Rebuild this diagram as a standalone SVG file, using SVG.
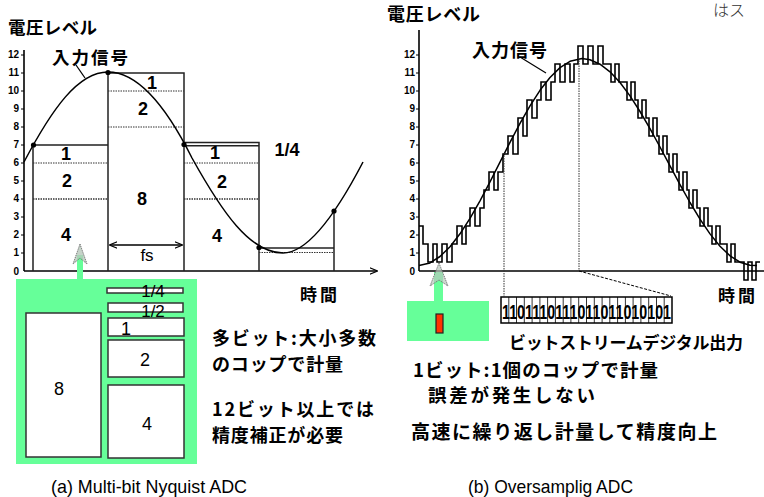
<svg xmlns="http://www.w3.org/2000/svg" width="764" height="497" viewBox="0 0 764 497">
<defs>
<style>
.ax{stroke:#000;stroke-width:1.6;fill:none}
.bar{stroke:#222;stroke-width:1.5;fill:none}
.dt{stroke:#333;stroke-width:1;stroke-dasharray:1.5,1;fill:none}
.dt2{stroke:#333;stroke-width:1.6;stroke-dasharray:1.5,1;fill:none}
.cv{stroke:#000;stroke-width:1.5;fill:none}
.jp{font-family:"Noto Sans CJK JP","Noto Sans CJK SC",sans-serif;font-weight:bold;fill:#000}
.nb{font-family:"Liberation Sans",Arial,sans-serif;font-weight:bold;fill:#000}
.nr{font-family:"Liberation Sans",Arial,sans-serif;fill:#000}
.yl{font-family:"Liberation Sans",Arial,sans-serif;font-weight:bold;font-size:10px;text-anchor:end;fill:#000}
.box{fill:#fff;stroke:#333;stroke-width:1.5}
.grn{fill:#66ff99}
.ah{fill:#b8c8bc;stroke:#777;stroke-width:1;stroke-dasharray:1.2,0.8}
</style>
<marker id="arr" viewBox="0 0 10 10" refX="9" refY="5" markerWidth="8" markerHeight="8" orient="auto-start-reverse" markerUnits="userSpaceOnUse">
<path d="M0,1 L10,5 L0,9" fill="none" stroke="#000" stroke-width="1.5"/>
</marker>
</defs>
<rect width="764" height="497" fill="#fff"/>

<!-- ===== Left chart (a) ===== -->
<g id="left-axes">
<text class="jp" x="8" y="34" font-size="17.5" textLength="89">電圧レベル</text>
<line class="ax" x1="24" y1="50" x2="24" y2="271"/>
<line class="ax" x1="24" y1="271" x2="377" y2="271" stroke-width="2" marker-end="url(#arr)"/>
<g class="yl">
<text x="19" y="58">12</text><text x="19" y="76">11</text><text x="19" y="94">10</text>
<text x="19" y="112">9</text><text x="19" y="130">8</text><text x="19" y="148">7</text>
<text x="19" y="166">6</text><text x="19" y="184">5</text><text x="19" y="202">4</text>
<text x="19" y="220">3</text><text x="19" y="238">2</text><text x="19" y="256">1</text>
<text x="19" y="275">0</text>
</g>
<path stroke="#000" stroke-width="1" d="M21,55H24M21,73H24M21,91H24M21,109H24M21,127H24M21,145H24M21,163H24M21,181H24M21,199H24M21,217H24M21,235H24M21,253H24"/>
<text class="jp" x="300" y="301" font-size="17" textLength="37">時間</text>
</g>

<g id="bar1">
<path class="bar" d="M33,271V145H108"/>
<line class="dt" x1="33" y1="163" x2="108" y2="163"/>
<line class="dt2" x1="33" y1="199" x2="108" y2="199"/>
<text class="nb" x="66" y="160" font-size="18" text-anchor="middle">1</text>
<text class="nb" x="67" y="187" font-size="18" text-anchor="middle">2</text>
<text class="nb" x="66" y="241" font-size="18" text-anchor="middle">4</text>
</g>
<g id="bar2">
<path class="bar" d="M108,271V73H184V271"/>
<line class="dt" x1="108" y1="91" x2="184" y2="91"/>
<line class="dt" x1="108" y1="127" x2="184" y2="127"/>
<text class="nb" x="152" y="89" font-size="18" text-anchor="middle">1</text>
<text class="nb" x="143" y="115" font-size="18" text-anchor="middle">2</text>
<text class="nb" x="142" y="205" font-size="18" text-anchor="middle">8</text>
<line x1="110" y1="245" x2="182" y2="245" stroke="#000" stroke-width="1.3" marker-start="url(#arr)" marker-end="url(#arr)"/>
<rect x="138" y="247" width="19" height="13" fill="#fff"/>
<text class="nr" x="147" y="261" font-size="17" text-anchor="middle">fs</text>
</g>
<g id="bar3">
<path class="bar" d="M184,142.5H259V271"/>
<line class="bar" x1="184" y1="145.7" x2="259" y2="145.7" stroke-width="1.2"/>
<line class="dt" x1="184" y1="163" x2="259" y2="163"/>
<line class="dt2" x1="184" y1="199" x2="259" y2="199"/>
<text class="nb" x="215" y="159" font-size="18" text-anchor="middle">1</text>
<text class="nb" x="222" y="188" font-size="18" text-anchor="middle">2</text>
<text class="nb" x="217" y="242" font-size="18" text-anchor="middle">4</text>
<text class="nb" x="287" y="156" font-size="18" text-anchor="middle">1/4</text>
</g>
<g id="bar4">
<path class="bar" d="M259,248H334"/>
<line class="dt" x1="259" y1="252.5" x2="334" y2="252.5"/>
<line class="bar" x1="334" y1="211" x2="334" y2="271"/>
</g>

<g id="left-signal">
<path class="cv" d="M24,162 C52,109 78,72 108,72 C136,72 164,102 192,158 C222,212 250,253 283,253 C309,253 337,212 363,162"/>
<g fill="#000">
<circle cx="33.5" cy="145" r="2.6"/><circle cx="108" cy="72.5" r="2.6"/>
<circle cx="184" cy="144.5" r="2.6"/><circle cx="259" cy="247.5" r="2.6"/>
<circle cx="334" cy="211" r="2.6"/>
</g>
<text class="jp" x="52" y="64" font-size="17.5" textLength="76">入力信号</text>
</g>

<!-- green comparator bank (a) -->
<g id="cups-a">
<rect class="grn" x="16" y="279" width="181" height="185"/>
<rect class="box" x="26" y="313" width="75" height="144"/>
<rect class="box" x="107" y="288" width="76" height="5" stroke-width="1.2"/>
<rect class="box" x="108" y="303" width="75" height="9" stroke-width="1.2"/>
<rect class="box" x="108" y="318" width="76" height="18"/>
<rect class="box" x="108" y="340" width="76" height="37"/>
<rect class="box" x="108" y="385" width="76" height="73"/>
<text class="nr" x="59" y="395" font-size="18" text-anchor="middle">8</text>
<text class="nr" x="153" y="297" font-size="17" text-anchor="middle">1/4</text>
<text class="nr" x="153" y="317" font-size="17" text-anchor="middle">1/2</text>
<text class="nr" x="126" y="335" font-size="18" text-anchor="middle">1</text>
<text class="nr" x="145" y="366" font-size="18" text-anchor="middle">2</text>
<text class="nr" x="147" y="430" font-size="18" text-anchor="middle">4</text>
</g>

<g id="text-a">
<text class="jp" x="212" y="345" font-size="18" textLength="164">多ビット:大小多数</text>
<text class="jp" x="212" y="371" font-size="18" textLength="131">のコップで計量</text>
<text class="jp" x="212" y="416" font-size="18" textLength="162">12ビット以上では</text>
<text class="jp" x="212" y="442" font-size="18" textLength="131">精度補正が必要</text>
<text class="nr" x="51" y="493" font-size="19" textLength="196" lengthAdjust="spacingAndGlyphs">(a) Multi-bit Nyquist ADC</text>
</g>

<!-- ===== Right chart (b) ===== -->
<g id="right-axes">
<text class="jp" x="387" y="21" font-size="18" textLength="93">電圧レベル</text>
<line class="ax" x1="419" y1="30" x2="419" y2="271"/>
<line class="ax" x1="419" y1="271" x2="764" y2="271" stroke-width="2"/>
<g class="yl">
<text x="415" y="58">12</text><text x="415" y="76">11</text><text x="415" y="94">10</text>
<text x="415" y="112">9</text><text x="415" y="130">8</text><text x="415" y="148">7</text>
<text x="415" y="166">6</text><text x="415" y="184">5</text><text x="415" y="202">4</text>
<text x="415" y="220">3</text><text x="415" y="238">2</text><text x="415" y="256">1</text>
<text x="415" y="275">0</text>
</g>
<path stroke="#000" stroke-width="1" d="M416,55H419M416,73H419M416,91H419M416,109H419M416,127H419M416,145H419M416,163H419M416,181H419M416,199H419M416,217H419M416,235H419M416,253H419"/>
<text class="jp" x="718" y="302" font-size="17" textLength="37">時間</text>
<text x="713" y="16" font-family="'Noto Sans CJK JP',sans-serif" font-weight="300" font-size="16" fill="#333">はス</text>
</g>

<g id="right-signal">
<path stroke="#000" stroke-width="1.6" fill="none" stroke-linejoin="miter" d="M419,226H423V244H428V262H433V244H437V262H442V244H447V262H452V244H457V226H462V244H466V226H470V208H475V226H480V208H484V190H489V172H494V190H498V172H503V154H508V136H513V154H518V118H523V136H527V100H532V118H537V100H541V82H546V100H551V82H555V64H560V82H565V64H570V82H574V64H578V46H583V64H588V46H593V64H598V46H603V64H611V82H615V64H619V82H627V100H631V82H635V100H638V118H642V100H646V118H649V136H653V118H657V136H659V154H663V136H667V154H669V172H673V154H677V172H679V190H683V172H687V190H689V208H693V190H697V208H700V226H704V208H708V226H712V244H716V226H720V244H727V262H731V244H735V262H744V280H748V262H752V280H756V262H760"/>
<path class="cv" d="M419,265.6 L430,262.9 L440,256.5 L450,246.7 L460,233.8 L470,218.3 L480,200.8 L490,181.8 L500,162.1 L510,142.4 L520,123.4 L530,105.8 L540,90.3 L550,77.5 L560,67.6 L570,61.3 L582,58.6 L590,59.7 L600,64.2 L610,71.8 L620,82.5 L630,95.9 L640,111.5 L650,128.7 L660,147 L670,165.9 L680,184.6 L690,202.5 L700,219.1 L710,233.9 L720,246.3 L730,255.8 L740,262.2 L750,265.3 L757,265.6" stroke-linejoin="round"/>
<text class="jp" x="472" y="57" font-size="18" textLength="75">入力信号</text>
</g>

<g id="bitstream">
<rect x="501" y="297" width="171" height="26" fill="#fff" stroke="#000" stroke-width="1.5"/>
<path stroke="#000" stroke-width="0.8" d="M508.8,297V323M516.5,297V323M524.3,297V323M532.1,297V323M539.9,297V323M547.6,297V323M555.4,297V323M563.2,297V323M570.9,297V323M578.7,297V323M586.5,297V323M594.3,297V323M602.1,297V323M609.8,297V323M617.6,297V323M625.4,297V323M633.1,297V323M640.9,297V323M648.7,297V323M656.5,297V323M664.2,297V323"/>
<text class="nb" x="502" y="319" font-size="21" textLength="169" lengthAdjust="spacingAndGlyphs">1101110111011011010101</text>
<text class="jp" x="509" y="349" font-size="17" textLength="234">ビットストリームデジタル出力</text>
</g>

<g id="cup-b">
<rect class="grn" x="407" y="301" width="82" height="40"/>
<rect x="436" y="314" width="7" height="19" fill="#ff3300" stroke="#222" stroke-width="1.2"/>
</g>

<g id="text-b">
<text class="jp" x="413" y="377" font-size="18.5" textLength="245">1ビット:1個のコップで計量</text>
<text class="jp" x="428" y="402" font-size="18.5" textLength="167">誤差が発生しない</text>
<text class="jp" x="411" y="439" font-size="19" textLength="306">高速に繰り返し計量して精度向上</text>
<text class="nr" x="468" y="493" font-size="19" textLength="165" lengthAdjust="spacingAndGlyphs">(b) Oversamplig ADC</text>
</g>

<g id="connectors">
<line x1="76" y1="65" x2="85" y2="78" stroke="#000" stroke-width="1.3"/>
<line x1="520" y1="57" x2="546" y2="73" stroke="#000" stroke-width="1.3"/>
<rect class="grn" x="77" y="255" width="6" height="25"/>
<polygon class="ah" points="80,244 87,264 80,258 73,264" fill-opacity="0.8"/>
<rect class="grn" x="434" y="272" width="9" height="30"/>
<polygon class="ah" points="439,263 448,286 439,280 430,286" fill-opacity="0.7"/>
<line class="dt" x1="504" y1="153" x2="504" y2="297" stroke="#000"/>
<line class="dt" x1="579" y1="58" x2="579" y2="271" stroke="#000" stroke-width="1.4"/>
<line x1="579" y1="271" x2="671" y2="296" stroke="#000" stroke-width="1" stroke-dasharray="3,1.5"/>
</g>
</svg>
